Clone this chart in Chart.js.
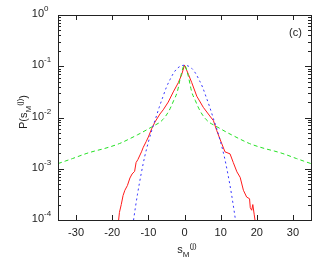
<!DOCTYPE html>
<html>
<head>
<meta charset="utf-8">
<script src="https://cdn.jsdelivr.net/npm/chart.js@4.4.1/dist/chart.umd.min.js"></script>
<style>
html, body { margin: 0; padding: 0; background: #fff; }
canvas { display: block; }
</style>
</head>
<body>
<canvas id="pdfChart" width="327" height="273"></canvas>
<script>
// measured distribution (red, solid)
var redX = [-18.3, -18.0, -17.5, -17.0, -16.5, -15.8, -15.1, -14.5, -13.8, -13.4, -12.9, -11.9, -11.4, -10.6, -10.0, -9.1, -8.2, -6.8, -5.9, -4.5, -3.1, -1.7, -0.8, 0,
            0.5, 1.1, 2.0, 3.4, 5.2, 7.0, 8.0, 8.9, 10.3, 11.2, 12.6, 13.5, 14.5, 15.4, 16.3, 17.2, 18.0, 18.2, 18.6, 18.9, 19.3, 19.6];
var redP = [0.000089, 0.000141, 0.00020, 0.00030, 0.00038, 0.00047, 0.00066, 0.00079, 0.00089, 0.00132, 0.00151, 0.00214, 0.00263, 0.00339, 0.00417, 0.0060, 0.0081, 0.0117, 0.0141, 0.020, 0.0316, 0.048, 0.068, 0.105,
            0.087, 0.069, 0.048, 0.026, 0.0158, 0.0107, 0.0087, 0.0056, 0.0031, 0.00214, 0.00195, 0.00132, 0.00087, 0.00068, 0.00038, 0.00028, 0.00026, 0.000174, 0.000155, 0.00020, 0.000126, 0.000089];

// gaussian (blue, dotted)
var blueX = [-14.3, -14, -13, -12, -11, -10, -9, -8, -7, -6, -5, -4, -3, -2, -1, 0, 1, 2, 3, 4, 5, 6, 7, 8, 9, 10, 11, 12, 13, 14, 14.3];
var blueP = [0.000079, 0.000112, 0.00032, 0.00079, 0.00174, 0.0033, 0.0058, 0.0095, 0.0158, 0.025, 0.039, 0.055, 0.074, 0.091, 0.101, 0.105,
             0.101, 0.091, 0.074, 0.055, 0.039, 0.025, 0.0158, 0.0095, 0.0058, 0.0033, 0.00174, 0.00079, 0.00032, 0.000112, 0.000079];

// heavy tailed fit (green, dashed)
var greenX = [-35, -33, -31, -27, -25, -22, -18, -15, -13, -12, -10, -8, -7, -6, -5, -4, -3, -2, -1, 0, 1, 2, 3, 4, 5, 6, 7, 8, 10, 12, 13, 15, 18, 22, 25, 27, 31, 33, 35];
var greenP = [0.00126, 0.00141, 0.00158, 0.0020, 0.0022, 0.0025, 0.0031, 0.0039, 0.0046, 0.0050, 0.0060, 0.0072, 0.0079, 0.0091, 0.0112, 0.0148, 0.0214, 0.0316, 0.066, 0.105,
              0.066, 0.0316, 0.0214, 0.0148, 0.0112, 0.0091, 0.0079, 0.0072, 0.0060, 0.0050, 0.0046, 0.0039, 0.0031, 0.0025, 0.0022, 0.0020, 0.00158, 0.00141, 0.00126];

var xTicks = [-30, -20, -10, 0, 10, 20, 30];
var yTickExp = [0, -1, -2, -3, -4];

var FONT = '"Liberation Sans", Arial, sans-serif';

function toPoints(xs, ys) {
    return xs.map(function(x, i) { return {x: x, y: ys[i]}; });
}

// draw a run of text pieces (base / sub / super) starting at x
function drawParts(ctx, parts, x, y) {
    parts.forEach(function(p) {
        ctx.font = p.size + 'px ' + FONT;
        ctx.fillText(p.t, x, y + p.dy);
        x += ctx.measureText(p.t).width;
    });
}
function partsWidth(ctx, parts) {
    var w = 0;
    parts.forEach(function(p) {
        ctx.font = p.size + 'px ' + FONT;
        w += ctx.measureText(p.t).width;
    });
    return w;
}

var framePlugin = {
    id: 'frame',
    afterDraw: function(chart) {
        var ctx = chart.ctx;
        var a = chart.chartArea;
        var xs = chart.scales.x, ys = chart.scales.y;
        ctx.save();
        ctx.strokeStyle = '#222';
        ctx.lineWidth = 1;
        ctx.strokeRect(Math.round(a.left) + 0.5, Math.round(a.top) + 0.5, Math.round(a.right - a.left), Math.round(a.bottom - a.top));

        ctx.beginPath();
        // x ticks, bottom and top
        xTicks.forEach(function(v) {
            var px = Math.round(xs.getPixelForValue(v)) + 0.5;
            ctx.moveTo(px, a.bottom); ctx.lineTo(px, a.bottom - 5);
            ctx.moveTo(px, a.top); ctx.lineTo(px, a.top + 5);
        });
        // y ticks, major and minor, left and right
        yTickExp.forEach(function(e) {
            var py = Math.round(ys.getPixelForValue(Math.pow(10, e))) + 0.5;
            ctx.moveTo(a.left, py); ctx.lineTo(a.left + 6, py);
            ctx.moveTo(a.right, py); ctx.lineTo(a.right - 6, py);
            if (e < 0) {
                for (var m = 2; m <= 9; m++) {
                    var pm = Math.round(ys.getPixelForValue(m * Math.pow(10, e))) + 0.5;
                    ctx.moveTo(a.left, pm); ctx.lineTo(a.left + 3, pm);
                    ctx.moveTo(a.right, pm); ctx.lineTo(a.right - 3, pm);
                }
            }
        });
        ctx.stroke();

        ctx.fillStyle = '#222';
        ctx.textBaseline = 'middle';
        // x tick labels
        ctx.font = '11px ' + FONT;
        ctx.textAlign = 'center';
        xTicks.forEach(function(v) {
            ctx.fillText(String(v), xs.getPixelForValue(v), a.bottom + 13);
        });
        // y tick labels 10^e
        ctx.textAlign = 'left';
        yTickExp.forEach(function(e) {
            var py = ys.getPixelForValue(Math.pow(10, e));
            ctx.font = '11px ' + FONT;
            var w = ctx.measureText('10').width;
            drawParts(ctx, [{t: '10', size: 11, dy: 0}, {t: String(e), size: 8, dy: -5}], 44 - w, py - 1);
        });

        ctx.textBaseline = 'alphabetic';
        // (c)
        ctx.font = '11px ' + FONT;
        ctx.fillText('(c)', 289, 36);

        // x title
        var xt = [{t: 's', size: 11, dy: 0}, {t: 'M', size: 8, dy: 4}, {t: '(j)', size: 8, dy: -5}];
        drawParts(ctx, xt, 185 - partsWidth(ctx, xt) / 2 + 2, 253);

        // y title
        var yt = [{t: 'P(s', size: 11, dy: 0}, {t: 'M', size: 8, dy: 4}, {t: '(j)', size: 8, dy: -5}, {t: ')', size: 11, dy: 0}];
        ctx.translate(27, 112);
        ctx.rotate(-Math.PI / 2);
        drawParts(ctx, yt, -partsWidth(ctx, yt) / 2, 0);
        ctx.restore();
    }
};

var chart = new Chart(document.getElementById('pdfChart').getContext('2d'), {
    type: 'line',
    data: {
        datasets: [{
            label: 'gaussian',
            data: toPoints(blueX, blueP),
            borderColor: '#3535ff',
            borderWidth: 1,
            borderDash: [2, 3],
            pointRadius: 0,
            tension: 0.4,
            cubicInterpolationMode: 'monotone'
        }, {
            label: 'fit',
            data: toPoints(greenX, greenP),
            borderColor: '#22e022',
            borderWidth: 1,
            borderDash: [4, 3],
            pointRadius: 0,
            cubicInterpolationMode: 'monotone'
        }, {
            label: 'data',
            data: toPoints(redX, redP),
            borderColor: '#ff1a1a',
            borderWidth: 1,
            pointRadius: 0,
            tension: 0
        }]
    },
    options: {
        responsive: false,
        animation: false,
        layout: { padding: { left: 58, top: 15, right: 16, bottom: 53 } },
        plugins: { legend: { display: false }, tooltip: { enabled: false } },
        scales: {
            x: { type: 'linear', min: -35, max: 35, display: false },
            y: { type: 'logarithmic', min: 0.0001, max: 1, display: false }
        }
    },
    plugins: [framePlugin]
});
</script>
</body>
</html>
